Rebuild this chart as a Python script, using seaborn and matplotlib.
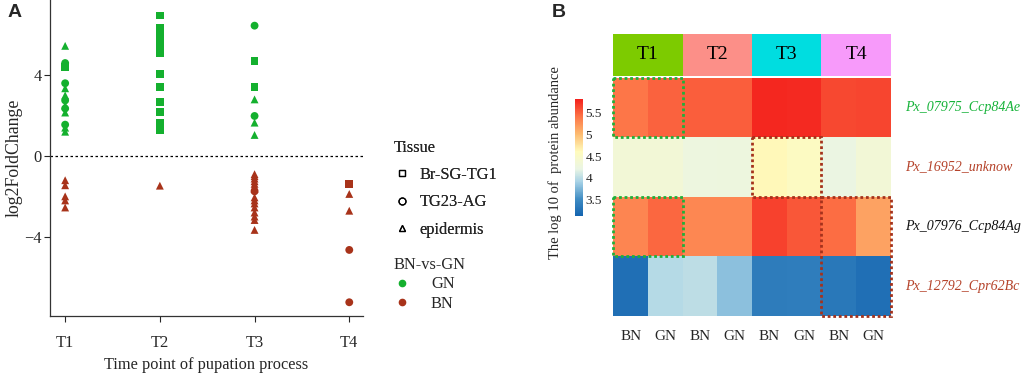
import matplotlib
matplotlib.use("Agg")
import matplotlib.pyplot as plt
import numpy as np
import pandas as pd
import seaborn as sns
from matplotlib.lines import Line2D
from matplotlib.patches import Rectangle
from matplotlib.colors import LinearSegmentedColormap, ListedColormap

# ---- Panel A data: log2FoldChange per time point ----
time_points = ["T1", "T2", "T3", "T4"]

pt_time = (["T1"] * 13 + ["T1"] * 5 +
           ["T2"] * 12 + ["T2"] * 1 +
           ["T3"] * 7 + ["T3"] * 16 +
           ["T4"] * 5)
pt_lfc = [5.45, 4.6, 4.4, 3.6, 3.35, 3.0, 2.75, 2.5, 2.35, 2.15, 1.55, 1.4, 1.2,
          -1.2, -1.45, -2.0, -2.2, -2.55,
          6.95, 6.35, 5.95, 5.75, 5.35, 5.1, 4.05, 3.43, 2.69, 2.16, 1.62, 1.3,
          -1.47,
          6.45, 4.72, 3.43, 2.8, 1.98, 1.65, 1.04,
          -0.9, -1.0, -1.12, -1.25, -1.38, -1.5, -1.62, -1.75, -2.05, -2.2, -2.35,
          -2.55, -2.8, -3.0, -3.17, -3.66,
          -1.39, -1.88, -2.71, -4.65, -7.24]
pt_tissue = (["epidermis", "TG23-AG", "Br-SG-TG1", "TG23-AG", "epidermis", "epidermis",
              "TG23-AG", "epidermis", "TG23-AG", "epidermis", "TG23-AG", "epidermis",
              "epidermis"] +
             ["epidermis"] * 5 +
             ["Br-SG-TG1"] * 12 +
             ["epidermis"] +
             ["TG23-AG", "Br-SG-TG1", "Br-SG-TG1", "epidermis", "TG23-AG", "epidermis",
              "epidermis"] +
             ["epidermis"] * 7 + ["TG23-AG"] + ["epidermis"] * 8 +
             ["Br-SG-TG1", "epidermis", "epidermis", "TG23-AG", "TG23-AG"])
pt_group = (["GN"] * 13 + ["BN"] * 5 + ["GN"] * 12 + ["BN"] +
            ["GN"] * 7 + ["BN"] * 16 + ["BN"] * 5)

# ---- Panel B data: log10 protein abundance ----
genes = ["Px_07975_Ccp84Ae", "Px_16952_unknow", "Px_07976_Ccp84Ag", "Px_12792_Cpr62Bc"]
gene_colors = ["#17b33a", "#b5432b", "#111111", "#b5432b"]
sample_labels = ["BN", "GN"] * 4
abund_07975 = [5.40, 5.50, 5.52, 5.52, 5.78, 5.77, 5.63, 5.64]
abund_16952 = [4.35, 4.35, 4.25, 4.26, 4.62, 4.55, 4.22, 4.35]
abund_07976 = [5.32, 5.48, 5.31, 5.31, 5.66, 5.55, 5.45, 5.15]
abund_12792 = [3.22, 3.97, 4.00, 3.80, 3.35, 3.36, 3.30, 3.22]

group_colors = {"GN": "#14b02e", "BN": "#a8331a"}
tissue_markers = {"Br-SG-TG1": "s", "TG23-AG": "o", "epidermis": "^"}
header_colors = ["#7dcb00", "#fc8f88", "#00dde0", "#f79afa"]

sns.set_style("ticks")
plt.rcParams["font.family"] = ["Liberation Serif", "DejaVu Serif"]

fig = plt.figure(figsize=(10.24, 3.73), dpi=100)

# ================= Panel A =================
df_pts = pd.DataFrame({"time": pt_time, "lfc": pt_lfc,
                       "Tissue": pt_tissue, "BN-vs-GN": pt_group})
axA = fig.add_axes([50 / 1024, 57 / 373, 313 / 1024, 316 / 373])
sns.scatterplot(data=df_pts, x="time", y="lfc", hue="BN-vs-GN", style="Tissue",
                palette=group_colors, markers=tissue_markers, s=32, linewidth=0,
                legend=False, ax=axA)
axA.axhline(0, color="black", lw=0.9, ls=(0, (2, 2)))
axA.set_xlim(-0.16, 3.145)
axA.set_ylim(-7.92, 7.72)
axA.set_yticks([-4, 0, 4])
axA.set_yticklabels(["\u22124", "0", "4"])
axA.set_xlabel("Time point of pupation process", fontsize=11.8, labelpad=4)
axA.set_ylabel("log2FoldChange", fontsize=12.8, labelpad=1)
axA.tick_params(axis="x", length=4, width=0.8, pad=10, labelsize=11.8)
axA.tick_params(axis="y", length=4, width=0.8, pad=2, labelsize=11.8)
for side in ["top", "right"]:
    axA.spines[side].set_visible(False)
for side in ["left", "bottom"]:
    axA.spines[side].set_linewidth(0.9)
    axA.spines[side].set_color("#333333")

# legends
tissue_handles = [Line2D([], [], marker=tissue_markers[t], ls="", mfc="none",
                         mec="black", ms=5, mew=0.9) for t in tissue_markers]
leg1 = fig.legend(tissue_handles, list(tissue_markers), title="Tissue",
                  loc="upper left", bbox_to_anchor=(394 / 1024, 1 - 139.5 / 373),
                  frameon=False, fontsize=11.8, title_fontsize=11.8, alignment="left",
                  handlelength=1.0, handletextpad=0.55, labelspacing=0.7,
                  borderpad=0, borderaxespad=0)
group_handles = [Line2D([], [], marker="o", ls="", color=group_colors[g], ms=4.5)
                 for g in ["GN", "BN"]]
leg2 = fig.legend(group_handles, ["GN", "BN"], title="BN-vs-GN",
                  loc="upper left", bbox_to_anchor=(394 / 1024, 1 - 257 / 373),
                  frameon=False, fontsize=11.8, title_fontsize=11.8, alignment="left",
                  handlelength=1.0, handletextpad=1.25, labelspacing=0.2,
                  borderpad=0, borderaxespad=0)
fig.add_artist(leg1)

# ================= Panel B =================
abund = pd.DataFrame([abund_07975, abund_16952, abund_07976, abund_12792],
                     index=genes)
cmap = LinearSegmentedColormap.from_list("abund", [
    (0.00, "#1565b0"), (0.14, "#3f8cc3"), (0.29, "#a7d2e6"), (0.40, "#eaf5e4"),
    (0.55, "#fffbbd"), (0.70, "#fdbb70"), (0.84, "#fd7a4a"), (1.00, "#f3201c")])

axH = fig.add_axes([613.3 / 1024, 57 / 373, 277.4 / 1024, 238.5 / 373])
axC = fig.add_axes([575 / 1024, 1 - 215.7 / 373, 7.7 / 1024, 116.7 / 373])
sns.heatmap(abund, cmap=cmap, vmin=3.12, vmax=5.82, ax=axH, cbar_ax=axC,
            xticklabels=sample_labels, yticklabels=False, linewidths=0)
axH.tick_params(axis="x", length=0, pad=10, labelsize=11)
axH.tick_params(axis="y", length=0)
axH.set_xlabel("")
axH.set_ylabel("")
for i, (g, c) in enumerate(zip(genes, gene_colors)):
    axH.text(8.41, i + 0.5, g, color=c, style="italic", fontsize=10.1,
             ha="left", va="center")

# dotted highlight boxes
boxes = [((0, 0), 2, 1, "#1fb03a"), ((0, 2), 2, 1, "#1fb03a"),
         ((4, 1), 2, 1, "#a5321c"), ((6, 2), 2, 2, "#a5321c")]
for xy, w, h, col in boxes:
    axH.add_patch(Rectangle(xy, w, h, fill=False, edgecolor=col, lw=2,
                            ls=(0, (1, 1)), clip_on=False, zorder=5))

cbar = axH.collections[0].colorbar
cbar.set_ticks([3.5, 4, 4.5, 5, 5.5])
cbar.set_ticklabels(["3.5", "4", "4.5", "5", "5.5"])
cbar.ax.tick_params(length=0, pad=2, labelsize=9.5)
cbar.outline.set_visible(False)
fig.text(555 / 1024, 1 - 163 / 373, "The log 10 of  protein abundance",
         rotation=90, ha="center", va="center", fontsize=10.5)

# header strip with time points
axT = fig.add_axes([613.3 / 1024, 1 - 76 / 373, 277.4 / 1024, 42.5 / 373])
sns.heatmap(np.array([[0, 1, 2, 3]]), cmap=ListedColormap(header_colors),
            cbar=False, annot=np.array([time_points]), fmt="",
            annot_kws={"fontsize": 14, "color": "black"},
            xticklabels=False, yticklabels=False, ax=axT)

# panel letters
fig.text(8 / 1024, 1 - 4 / 373, "A", fontsize=14, fontweight="bold",
         family="Liberation Sans", va="top", ha="left")
fig.text(552 / 1024, 1 - 4 / 373, "B", fontsize=14, fontweight="bold",
         family="Liberation Sans", va="top", ha="left")

fig.savefig("out.png", dpi=100)
